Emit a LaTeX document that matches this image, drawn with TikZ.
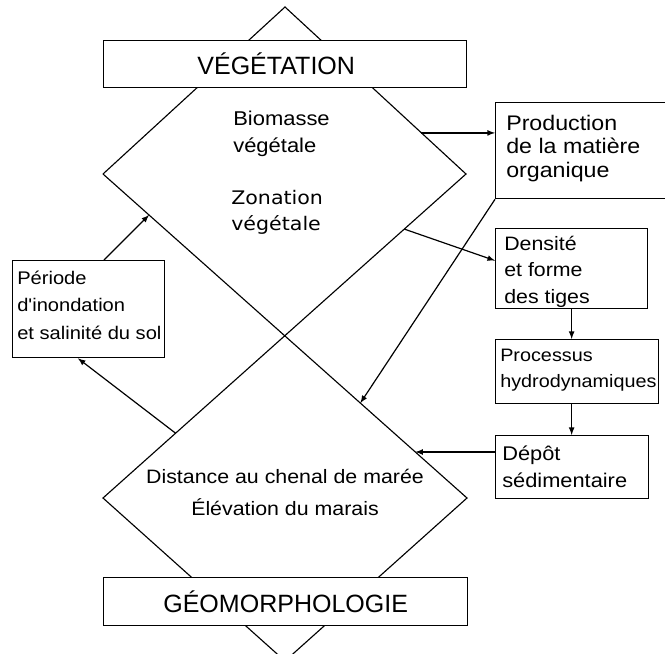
\documentclass[tikz,border=0pt]{standalone}
\usepackage{fontspec}
\setmainfont{Liberation Sans}
\newfontfamily\bodyfont{Liberation Sans}[FakeStretch=1.1]
\newfontfamily\zonefont{DejaVu Sans}[FakeStretch=1.1]
\newcommand{\fs}[2]{\bodyfont\fontsize{#1}{#2}\selectfont}
\usetikzlibrary{calc}

\begin{document}
\begin{tikzpicture}[
    x=0.025cm, y=-0.025cm,
    box/.style={draw, fill=white, line width=0.9pt, inner sep=0pt, anchor=north west},
    title/.style={box, font=\fontsize{17.8}{20}\selectfont},
    txt/.style={anchor=north west, inner sep=0pt, align=left, font=\fs{13.8}{19.2}},
    edge/.style={line width=0.8pt},
    arrow/.style={->, >=latex, line width=0.85pt}
]
    \useasboundingbox (0,0) rectangle (665,653);
    % les deux losanges
    \coordinate (T1) at (285,7);
    \coordinate (L1) at (103,174);
    \coordinate (R1) at (466,174);
    \coordinate (L2) at (103,498);
    \coordinate (R2) at (467,498);
    \coordinate (B2) at (285,661);
    \draw[edge] (L1) -- (T1) -- (R1) -- (L2) -- (B2) -- (R2) -- (L1);
    % points sur les bords
    \path (T1) -- (R1) coordinate[pos=0.754] (p1);
    \path (R1) -- (L2) coordinate[pos=0.17] (p2);
    \path (L1) -- (R2) coordinate[pos=0.707] (p3);
    \path (L1) -- (R2) coordinate[pos=0.858] (p4);
    \path (L1) -- (R2) coordinate[pos=0.1265] (p5);
    \path (R1) -- (L2) coordinate[pos=0.8] (p6);
    % titres
    \node[title, minimum width=9.075cm, minimum height=1.175cm] (veg) at (103,40) {VÉGÉTATION\hspace*{0.45cm}};
    \node[title, minimum width=9.1cm, minimum height=1.2cm] (geo) at (103,577) {GÉOMORPHOLOGIE};
    % textes des losanges
    \node[txt, font=\fs{14.2}{19.2}] (biotxt) at (233,110.5) {Biomasse\\végétale};
    \node[txt, font=\zonefont\fontsize{13.3}{18.5}\selectfont] (zontxt) at (231,190) {Zonation\\végétale};
    \node[txt, anchor=north, align=center, font=\fs{13.8}{22.8}] (disttxt) at (285,468.8)
        {Distance au chenal de marée\\Élévation du marais};
    % boites de droite
    \node[box, minimum width=4.3cm, minimum height=2.4cm] (prod) at (495,102) {};
    \node[txt, font=\fs{15}{16.7}] (prodtxt) at (506,114.6) {Production\\de la matière\\organique};
    \node[box, minimum width=3.8cm, minimum height=2cm] (dens) at (495,228) {};
    \node[txt, font=\fs{13.8}{18.85}] (denstxt) at (504,235.8) {Densité\\et forme\\des tiges};
    \node[box, minimum width=4.075cm, minimum height=1.6cm] (proc) at (495,339) {};
    \node[txt, font=\fs{12.8}{18.5}] (proctxt) at (500,348.7) {Processus\\hydrodynamiques};
    \node[box, minimum width=3.825cm, minimum height=1.575cm] (dep) at (495,435) {};
    \node[txt, font=\fs{14.1}{19.2}] (deptxt) at (502,445.4) {Dépôt\\sédimentaire};
    % boite de gauche
    \node[box, minimum width=3.8cm, minimum height=2.425cm] (per) at (12,260) {};
    \node[txt, font=\fs{13}{19.6}] (pertxt) at (17,270.6) {Période\\d'inondation\\et salinité du sol};
    % fleches
    \draw[arrow] (p1) -- (p1 -| prod.west);
    \draw[arrow] (p2) -- (dens.174);
    \draw[arrow] (dens.south) -- (dens.south |- proc.north);
    \draw[arrow] (dens.south |- proc.south) -- (dens.south |- dep.north);
    \draw[arrow] (dep.west |- p4) -- (p4);
    \draw[arrow] (prod.south west) -- (p3);
    \draw[arrow] ($(per.north west)!0.6!(per.north east)$) -- (p5);
    \draw[arrow] (p6) -- ($(per.south west)!0.43!(per.south east)$);
\end{tikzpicture}
\end{document}
